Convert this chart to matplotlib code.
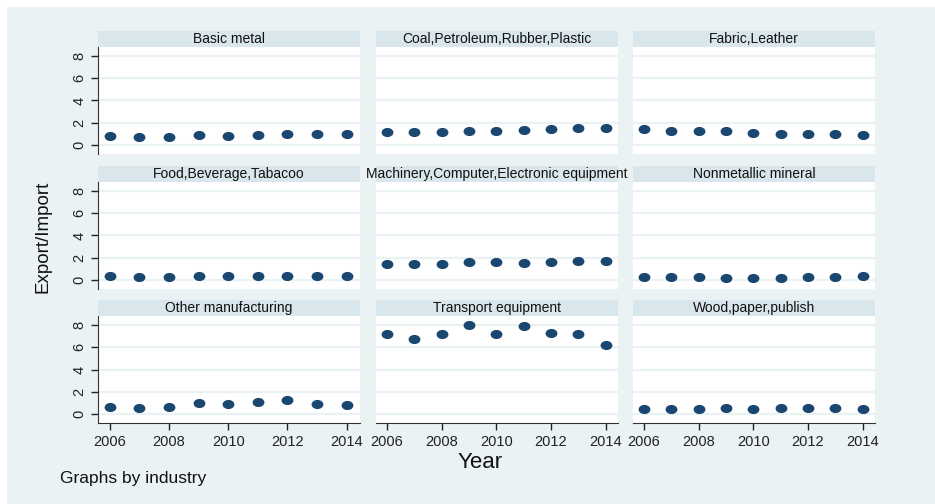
import matplotlib
matplotlib.use("Agg")
import matplotlib.pyplot as plt
from matplotlib.path import Path
from matplotlib.transforms import Affine2D
from matplotlib.patches import Rectangle

plt.rcParams['font.family'] = ['Liberation Sans', 'DejaVu Sans']

years = [2006, 2007, 2008, 2009, 2010, 2011, 2012, 2013, 2014]

industries = [
    "Basic metal",
    "Coal,Petroleum,Rubber,Plastic",
    "Fabric,Leather",
    "Food,Beverage,Tabacoo",
    "Machinery,Computer,Electronic equipment",
    "Nonmetallic mineral",
    "Other manufacturing",
    "Transport equipment",
    "Wood,paper,publish",
]

basic_metal = [0.81, 0.75, 0.69, 0.87, 0.84, 0.93, 1.01, 1.01, 1.01]
coal_petro = [1.16, 1.16, 1.16, 1.22, 1.22, 1.34, 1.43, 1.49, 1.52]
fabric = [1.40, 1.22, 1.22, 1.25, 1.10, 0.96, 0.99, 0.96, 0.87]
food = [0.33, 0.30, 0.24, 0.33, 0.33, 0.36, 0.36, 0.36, 0.36]
machinery = [1.42, 1.42, 1.42, 1.58, 1.58, 1.55, 1.64, 1.70, 1.70]
nonmetallic = [0.30, 0.24, 0.24, 0.21, 0.21, 0.21, 0.24, 0.30, 0.39]
other_manuf = [0.66, 0.51, 0.60, 1.01, 0.87, 1.04, 1.22, 0.93, 0.84]
transport = [7.22, 6.78, 7.16, 8.00, 7.16, 7.88, 7.25, 7.19, 6.18]
wood_paper = [0.48, 0.45, 0.45, 0.51, 0.48, 0.51, 0.51, 0.51, 0.48]

series = [basic_metal, coal_petro, fabric, food, machinery, nonmetallic,
          other_manuf, transport, wood_paper]

y_ticks = [0, 2, 4, 6, 8]
x_ticks = [2006, 2008, 2010, 2012, 2014]

BG = "#EAF2F3"
STRIP = "#D9E6EB"
NAVY = "#1A476F"

W, H = 935, 504
fig = plt.figure(figsize=(W / 100, H / 100), dpi=100)
fig.patch.set_facecolor("white")
fig.add_artist(Rectangle((7 / W, 0), 1 - 7 / W, 1 - 7 / H, transform=fig.transFigure,
                         facecolor=BG, edgecolor="none", zorder=-10))

# panel geometry in pixels
col_left = [98, 376, 633]
col_width = [262, 242, 242]
row_top = [47, 182, 316]
plot_h = 107
strip_h = 16

# slightly wide oval marker
dot = Path.unit_circle().transformed(Affine2D().scale(1.35, 1.0))


def box(x, y_top, w, h):
    return [x / W, 1 - (y_top + h) / H, w / W, h / H]


for i, (name, vals) in enumerate(zip(industries, series)):
    r, c = divmod(i, 3)
    ax = fig.add_axes(box(col_left[c], row_top[r], col_width[c], plot_h))
    ax.set_facecolor("white")
    ax.set_xlim(2005.6, 2014.45)
    ax.set_ylim(-0.8, 8.8)
    for yv in y_ticks:
        ax.axhline(yv, color=BG, lw=1.6, zorder=1)
    ax.plot(years, vals, linestyle="none", marker=dot, markersize=7.5,
            color=NAVY, zorder=3, clip_on=False)
    for s in ax.spines.values():
        s.set_visible(False)
    ax.set_yticks(y_ticks)
    ax.set_xticks(x_ticks)
    ax.tick_params(colors="#222222", length=5, width=1)
    if c == 0:
        ax.spines["left"].set_visible(True)
        ax.spines["left"].set_color("#333333")
        ax.set_yticklabels([str(v) for v in y_ticks], rotation=90, va="center",
                           fontsize=10.5)
    else:
        ax.tick_params(axis="y", left=False, labelleft=False)
    if r == 2:
        ax.spines["bottom"].set_visible(True)
        ax.spines["bottom"].set_color("#333333")
        ax.set_xticklabels([str(v) for v in x_ticks], fontsize=10.5)
    else:
        ax.tick_params(axis="x", bottom=False, labelbottom=False)

    sax = fig.add_axes(box(col_left[c], row_top[r] - strip_h, col_width[c], strip_h))
    sax.set_facecolor(STRIP)
    sax.set_xticks([])
    sax.set_yticks([])
    for s in sax.spines.values():
        s.set_visible(False)
    # strip titles go on the figure so a long one is not hidden by the next strip
    fig.text((col_left[c] + col_width[c] / 2) / W, 1 - (row_top[r] - strip_h / 2) / H,
             name, ha="center", va="center", fontsize=10, color="#111111", zorder=20)

fig.text(43 / W, 1 - 237 / H, "Export/Import", rotation=90, ha="center",
         va="center", fontsize=13.5, color="#111111")
fig.text(480 / W, 1 - 462 / H, "Year", ha="center", va="center",
         fontsize=16, color="#111111")
fig.text(60 / W, 1 - 478 / H, "Graphs by industry", ha="left", va="center",
         fontsize=12.5, color="#111111")

fig.savefig("out.png", dpi=100, facecolor=fig.get_facecolor())
